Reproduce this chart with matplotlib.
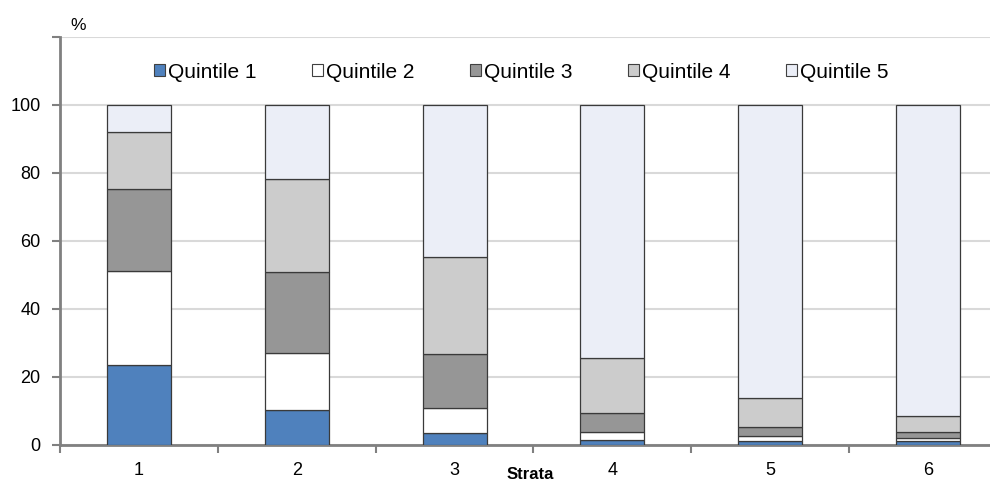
import numpy as np
import matplotlib.pyplot as plt
from matplotlib.patches import Patch

# data (share of each strata by income quintile, %)
strata = ['1', '2', '3', '4', '5', '6']
quintile_names = ['Quintile 1', 'Quintile 2', 'Quintile 3', 'Quintile 4', 'Quintile 5']
q1 = [23.5, 10.3, 3.5, 1.5, 1.2, 1.3]
q2 = [27.7, 16.8, 7.4, 2.3, 1.4, 0.7]
q3 = [24.1, 23.8, 15.9, 5.6, 2.6, 1.7]
q4 = [16.8, 27.3, 28.5, 16.1, 8.5, 4.7]
q5 = [7.9, 21.8, 44.7, 74.5, 86.3, 91.6]

colors = ['#4F81BD', '#FFFFFF', '#969696', '#CCCCCC', '#EBEEF7']
plt.rcParams['font.family'] = ['Liberation Sans', 'DejaVu Sans']

fig = plt.figure(figsize=(9.9, 4.82), dpi=100)
ax = fig.add_axes([0.0606, 0.0768, 0.9565, 0.8465])

x = np.arange(1, len(strata) + 1)
bottom = np.zeros(len(strata))
for vals, col in zip([q1, q2, q3, q4, q5], colors):
    ax.bar(x, vals, width=0.405, bottom=bottom, color=col,
           edgecolor='#3a3a3a', linewidth=0.9, zorder=3)
    bottom += np.array(vals)

ax.set_xlim(0.5, 6.5)
ax.set_ylim(0, 120)
ax.set_yticks(np.arange(0, 121, 20))
ax.set_yticklabels(['0', '20', '40', '60', '80', '100', ''], fontsize=13)
ax.yaxis.grid(True, color='#D9D9D9', linewidth=1.5, zorder=0)

ax.set_xticks(x)
ax.set_xticklabels(strata, fontsize=13)
ax.set_xticks(np.arange(0.5, 6.6, 1), minor=True)
ax.tick_params(axis='x', which='major', length=0, pad=12)
ax.tick_params(axis='x', which='minor', length=6, width=1.5, color='#808080')
ax.tick_params(axis='y', length=6, width=1.5, color='#808080', pad=8)

for s in ['top', 'right']:
    ax.spines[s].set_visible(False)
for s in ['left', 'bottom']:
    ax.spines[s].set_color('#808080')
    ax.spines[s].set_linewidth(2)

handles = [Patch(facecolor=c, edgecolor='#404040', linewidth=0.8) for c in colors]
ax.legend(handles, quintile_names, ncol=5, loc='center', bbox_to_anchor=(0.487, 0.914),
          frameon=False, fontsize=15, handlelength=0.55, handleheight=0.55,
          handletextpad=0.15, columnspacing=2.64)

fig.text(0.079, 0.948, '%', fontsize=12.5, ha='center', va='center')
fig.text(0.536, 0.006, 'Strata', fontsize=12, fontweight='bold',
         ha='center', va='baseline')

fig.savefig('out.png', dpi=100)
